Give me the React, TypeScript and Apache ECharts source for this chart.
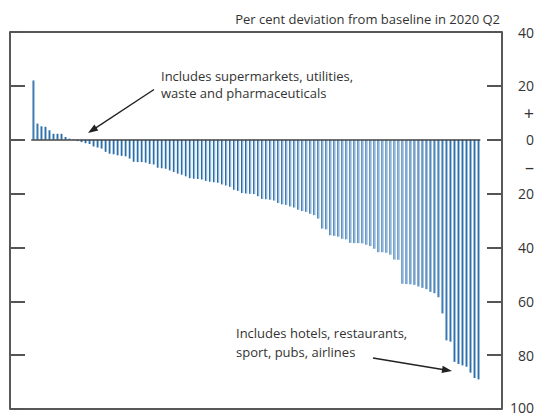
import React, { useEffect, useRef } from "react";
import * as echarts from "echarts";

// Per cent deviation from baseline in 2020 Q2, one bar per sector (sorted)
const sectorDeviation: number[] = [
  22, 6, 5, 4.8, 3.5, 2.2, 2.2, 2.2, 1, 0.4,
  0.2, -0.5, -0.9, -1.3, -1.6, -2.5, -2.9, -3.3, -4.5, -5.2,
  -5.4, -5.8, -6, -6.2, -7, -8.2, -8.3, -8.3, -8.5, -9,
  -9.2, -10.4, -10.6, -10.8, -11.4, -12, -12.6, -13, -13.6, -14.3,
  -14.5, -14.6, -14.8, -15.3, -15.6, -15.8, -16, -16.6, -17, -17.5,
  -18.6, -19, -19.8, -20, -20.1, -20.2, -21, -22, -22.1, -22.3,
  -22.6, -23.5, -24, -24.2, -24.8, -25.2, -26, -26.5, -26.8, -27.5,
  -28, -29.3, -33, -33.3, -35.5, -35.7, -36, -36.8, -37, -38.3,
  -38.4, -38.4, -38.5, -39, -39.5, -40.5, -41.8, -41.8, -42, -42.7,
  -44.5, -44.6, -53.5, -53.6, -53.7, -53.9, -54.5, -55, -55.5, -56.5,
  -57, -58.5, -64.5, -74.5, -75, -82.5, -83.3, -83.8, -84.3, -86.5,
  -88.5, -89,
];

const yMin = -100;
const yMax = 40;
const labelStep = 10;
const tickStep = 20;

const titleText = "Per cent deviation from baseline in 2020 Q2";
const noteTop = ["Includes supermarkets, utilities,", "waste and pharmaceuticals"];
const noteBottom = ["Includes hotels, restaurants,", "sport, pubs, airlines"];

const FONT = "'Open Sans', 'Noto Sans', sans-serif";
const TEXT_COLOR = "#333";

function yLabel(v: number): string {
  if (v === 10) return "{pm|+}";
  if (v === -10) return "{pm|\u2013}";
  if (v === yMin) return "{low|" + Math.abs(v) + "}";
  if (v % 20 === 0) return String(Math.abs(v));
  return "";
}

function arrow(x1: number, y1: number, x2: number, y2: number, color: string) {
  const dx = x2 - x1;
  const dy = y2 - y1;
  const len = Math.sqrt(dx * dx + dy * dy);
  const ux = dx / len;
  const uy = dy / len;
  const head = 10;
  const half = 3.6;
  const bx = x2 - ux * head;
  const by = y2 - uy * head;
  const nx = -uy;
  const ny = ux;
  return [
    {
      type: "line",
      shape: { x1, y1, x2: bx + ux * 2, y2: by + uy * 2 },
      style: { stroke: color, lineWidth: 1.4 },
    },
    {
      type: "polygon",
      shape: {
        points: [
          [x2, y2],
          [bx + nx * half, by + ny * half],
          [bx - nx * half, by - ny * half],
        ],
      },
      style: { fill: color },
    },
  ];
}

export default function App() {
  const ref = useRef<HTMLDivElement>(null);

  useEffect(() => {
    if (!ref.current) return;
    const chart = echarts.init(ref.current, undefined, { renderer: "svg" });
    const n = sectorDeviation.length;
    const barColor = new echarts.graphic.LinearGradient(0, 0, 1, 0, [
      { offset: 0, color: "#2466a0" },
      { offset: 0.42, color: "#2f6fa9" },
      { offset: 0.48, color: "#8db5da" },
      { offset: 1, color: "#8db5da" },
    ]);

    const tickAxis = (position: "left" | "right") => ({
      type: "value" as const,
      position,
      min: yMin,
      max: yMax,
      interval: tickStep,
      axisLine: { show: false },
      axisTick: { show: true, inside: true, length: 15, lineStyle: { color: "#555", width: 2 } },
      axisLabel: { show: false },
      splitLine: { show: false },
    });

    chart.setOption({
      animation: false,
      backgroundColor: "#fff",
      grid: {
        left: 10,
        right: 35,
        top: 32,
        bottom: 4,
        show: true,
        borderColor: "#222",
        borderWidth: 1.5,
        backgroundColor: "transparent",
      },
      xAxis: {
        type: "value",
        min: -5.9,
        max: n - 1 + 5.8,
        show: false,
        splitLine: { show: false },
      },
      yAxis: [
        {
          type: "value",
          position: "right",
          min: yMin,
          max: yMax,
          interval: labelStep,
          axisLine: { show: false },
          axisTick: { show: false },
          splitLine: { show: false },
          axisLabel: {
            formatter: (v: number) => yLabel(v),
            align: "right",
            margin: 32,
            fontSize: 14,
            fontFamily: FONT,
            color: TEXT_COLOR,
            showMinLabel: true,
            showMaxLabel: true,
            rich: {
              pm: { fontSize: 18, fontFamily: FONT, color: TEXT_COLOR },
              low: { fontSize: 14, fontFamily: FONT, color: TEXT_COLOR, padding: [0, 0, 4, 0] },
            },
          },
        },
        tickAxis("left"),
        tickAxis("right"),
      ],
      series: [
        {
          type: "bar",
          yAxisIndex: 0,
          barWidth: 2.3,
          itemStyle: { color: barColor },
          data: sectorDeviation.map((v, i) => [i, v]),
          markLine: {
            silent: true,
            symbol: "none",
            label: { show: false },
            lineStyle: { color: "#444", width: 1.6, type: "solid" },
            data: [[{ coord: [-0.6, 0] }, { coord: [n - 1 + 0.4, 0] }]],
          },
        },
      ],
      graphic: [
        {
          type: "text",
          right: 37,
          top: 12,
          style: {
            text: titleText,
            font: `13px ${FONT}`,
            fill: TEXT_COLOR,
          },
        },
        {
          type: "text",
          left: 161,
          top: 67,
          style: {
            text: noteTop.join("\n"),
            font: `13px ${FONT}`,
            lineHeight: 17,
            fill: TEXT_COLOR,
          },
        },
        {
          type: "text",
          left: 236,
          top: 323,
          style: {
            text: noteBottom.join("\n"),
            font: `13px ${FONT}`,
            lineHeight: 19,
            fill: TEXT_COLOR,
          },
        },
        ...arrow(154, 89.5, 88, 133, "#222"),
        ...arrow(373, 358, 452, 371, "#222"),
      ],
    });
    return () => chart.dispose();
  }, []);

  return (
    <div
      ref={ref}
      style={{ position: "absolute", left: 0, top: 0, width: 537, height: 414 }}
    />
  );
}
